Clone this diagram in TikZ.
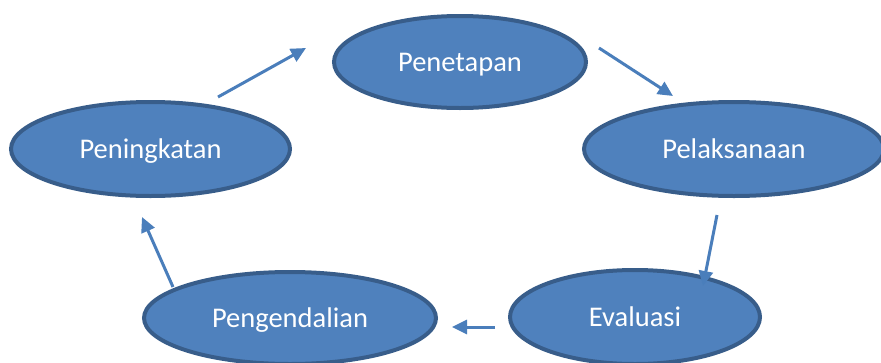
\documentclass[tikz,border=0pt]{standalone}
\usepackage{fontspec}
\setmainfont{Carlito}
\usepackage{tikz}
\usetikzlibrary{shapes.geometric,arrows.meta}
\definecolor{phasefill}{HTML}{4F81BD}
\definecolor{phaseborder}{HTML}{385D8A}
\definecolor{flowblue}{HTML}{4A7EBB}
\begin{document}
\begin{tikzpicture}[x=1pt,y=-1pt]
\tikzstyle{phase}=[ellipse, draw=phaseborder, fill=phasefill, line width=4pt, text=white, inner sep=0pt, text height=18pt, text depth=0pt, font=\fontsize{28.5}{34}\selectfont]
\tikzstyle{flow}=[draw=flowblue, line width=3pt, -{Triangle[length=15pt,width=14pt]}]
\useasboundingbox (0,0) rectangle (881,362);
\node[phase, minimum width=252pt, minimum height=92pt] (penetapan) at (460,62) {Penetapan};
\node[phase, minimum width=300pt, minimum height=94pt] (pelaksanaan) at (734,149) {Pelaksanaan};
\node[phase, minimum width=250pt, minimum height=94pt] (evaluasi) at (635,317) {Evaluasi};
\node[phase, minimum width=292pt, minimum height=92pt] (pengendalian) at (290,318) {Pengendalian};
\node[phase, minimum width=279pt, minimum height=94pt] (peningkatan) at (150.5,149) {Peningkatan};
\coordinate (ab0) at (218,97);
\coordinate (ab1) at (306,48);
\coordinate (bc0) at (599,48);
\coordinate (bc1) at (673,96);
\coordinate (cd0) at (717,215);
\coordinate (cd1) at (703,286);
\coordinate (de0) at (495,327);
\coordinate (de1) at (452,327);
\coordinate (ea0) at (173,287);
\coordinate (ea1) at (142,217);
\draw[flow] (ab0) -- (ab1);
\draw[flow] (bc0) -- (bc1);
\draw[flow] (cd0) -- (cd1);
\draw[flow] (de0) -- (de1);
\draw[flow] (ea0) -- (ea1);
\end{tikzpicture}
\end{document}
